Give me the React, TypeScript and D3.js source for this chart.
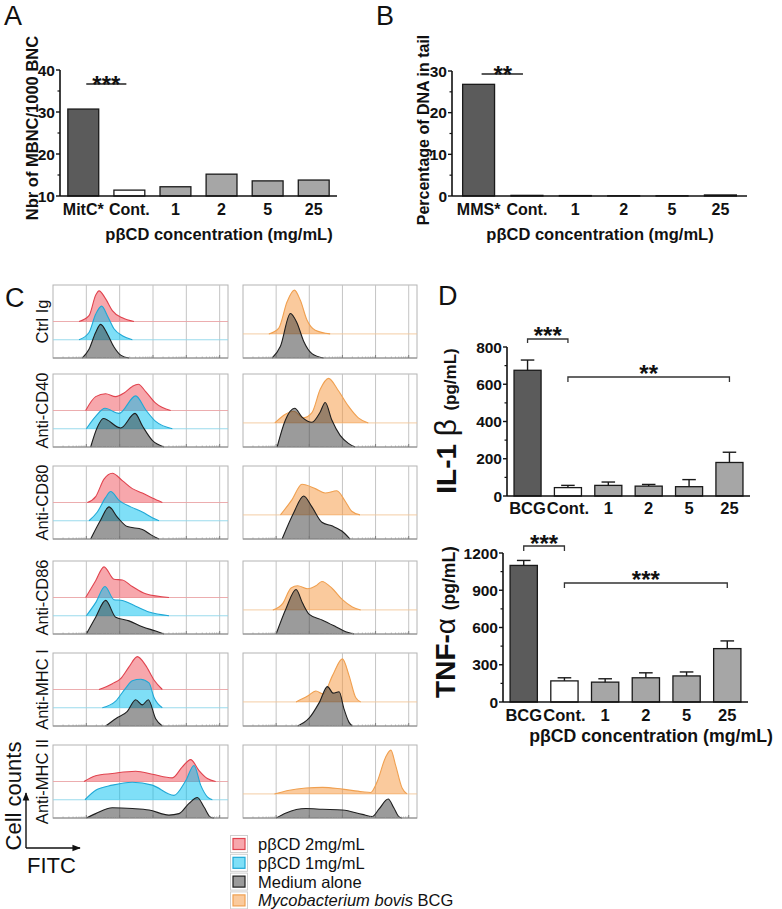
import React from 'react';
import * as d3 from 'd3';

const FONT = "'Liberation Sans', Arial, Helvetica, sans-serif";

// ---------- Panel A ----------
const aCategories = ['MitC*', 'Cont.', '1', '2', '5', '25'];
const aValues = [30.7, 11.4, 12.2, 15.2, 13.6, 13.8];
const aTicks = [10, 20, 30, 40];
const aMinor = [15, 25, 35];

// ---------- Panel B ----------
const bCategories = ['MMS*', 'Cont.', '1', '2', '5', '25'];
const bValues = [26.8, 0.15, 0.1, 0.05, 0.05, 0.25];
const bTicks = [0, 10, 20, 30];
const bMinor = [5, 15, 25];

// ---------- Panel D ----------
const dCategories = ['BCG', 'Cont.', '1', '2', '5', '25'];
const il1Values = [675, 45, 57, 53, 50, 180];
const il1Errors = [55, 12, 18, 9, 38, 55];
const il1Ticks = [0, 200, 400, 600, 800];
const il1Minor = [100, 300, 500, 700];
const tnfValues = [1100, 170, 160, 195, 210, 430];
const tnfErrors = [40, 25, 27, 40, 32, 62];
const tnfTicks = [0, 300, 600, 900, 1200];
const tnfMinor = [150, 450, 750, 1050];

// ---------- Panel C (histograms: [log FITC decade, % of frame height]) ----------
const rowLabels = ['Ctrl Ig', 'Anti-CD40', 'Anti-CD80', 'Anti-CD86', 'Anti-MHC I', 'Anti-MHC II'];

const ctrlRed = [[0.78, 0], [1.08, 8], [1.28, 36], [1.38, 42], [1.58, 31], [1.78, 15], [2.08, 5], [2.43, 0]];
const ctrlBlue = [[0.78, 0], [1.08, 10], [1.28, 35], [1.46, 46], [1.63, 33], [1.83, 15], [2.08, 5.5], [2.38, 0]];
const ctrlBlack = [[0.88, 0], [1.08, 12], [1.28, 35], [1.43, 46], [1.63, 33], [1.83, 15], [2.03, 4], [2.28, 0]];
const ctrlOrange = [[0.78, 0], [1.08, 8], [1.33, 44], [1.55, 60], [1.73, 46], [1.93, 19], [2.18, 5], [2.63, 0]];
const ctrlBlackR = [[0.88, 0], [1.13, 16], [1.43, 61], [1.63, 48], [1.83, 23], [2.08, 6], [2.43, 0]];

const cd40Red = [[0.98, 0], [1.28, 19], [1.58, 23], [1.88, 19], [2.13, 24], [2.38, 33], [2.56, 36], [2.78, 26], [3.08, 10], [3.53, 0]];
const cd40Blue = [[1.0, 0], [1.28, 17], [1.56, 28], [1.98, 21], [2.48, 45], [2.78, 26], [3.08, 10], [3.58, 0]];
const cd40Black = [[1.13, 0], [1.33, 27], [1.51, 39], [2.03, 26], [2.46, 46], [2.68, 29], [2.98, 9], [3.33, 0]];
const cd40Orange = [[0.96, 0], [1.28, 12], [1.53, 16], [1.83, 7], [2.08, 14], [2.33, 46], [2.58, 61], [2.88, 44], [3.18, 23], [3.48, 7], [3.78, 0]];
const cd40BlackR = [[1.03, 0], [1.28, 37], [1.56, 53], [1.78, 41], [2.08, 34], [2.33, 48], [2.48, 61], [2.68, 37], [2.93, 16], [3.18, 5], [3.38, 0]];

const cd80Red = [[1.03, 0], [1.28, 8], [1.53, 32], [1.78, 40], [2.08, 30], [2.38, 19], [2.68, 13], [2.98, 6], [3.28, 0]];
const cd80Blue = [[1.08, 0], [1.33, 12], [1.58, 32], [1.73, 40], [1.98, 28], [2.33, 19], [2.68, 12], [2.98, 4], [3.18, 0]];
const cd80Black = [[1.13, 0], [1.43, 26], [1.68, 44], [1.93, 30], [2.23, 17], [2.68, 13], [2.93, 6], [3.18, 0]];
const cd80Orange = [[1.13, 0], [1.48, 21], [1.78, 42], [2.18, 36], [2.48, 30], [2.83, 33], [3.08, 19], [3.28, 5], [3.53, 0]];
const cd80BlackR = [[1.18, 0], [1.53, 36], [1.83, 59], [2.08, 44], [2.38, 23], [2.68, 18], [2.98, 11], [3.23, 0]];

const cd86Red = [[0.98, 0], [1.28, 23], [1.53, 42], [1.83, 25], [2.08, 24], [2.38, 15], [2.78, 5], [3.48, 0]];
const cd86Blue = [[1.0, 0], [1.28, 18], [1.56, 40], [1.83, 22], [2.08, 21], [2.48, 13], [2.88, 5], [3.48, 0]];
const cd86Black = [[1.0, 0], [1.28, 23], [1.58, 46], [1.88, 23], [2.28, 18], [2.68, 10], [3.08, 4], [3.33, 0]];
const cd86Orange = [[0.9, 0], [1.2, 9], [1.45, 30], [1.65, 33], [1.95, 29], [2.2, 33], [2.38, 39], [2.7, 29], [3.0, 14], [3.3, 4], [3.55, 0]];
const cd86BlackR = [[1.0, 0], [1.3, 35], [1.6, 61], [1.8, 42], [2.0, 27], [2.4, 19], [2.8, 10], [3.1, 3], [3.35, 0]];

const mhc1Red = [[1.38, 0], [1.78, 8], [2.03, 15], [2.28, 31], [2.53, 45], [2.78, 33], [3.03, 13], [3.28, 0]];
const mhc1Blue = [[1.48, 0], [1.88, 9], [2.18, 27], [2.38, 37], [2.63, 39], [2.88, 34], [3.03, 14], [3.28, 0]];
const mhc1Black = [[1.58, 0], [1.88, 10], [2.23, 20], [2.48, 36], [2.68, 29], [2.86, 36], [3.08, 10], [3.28, 0]];
const mhc1Orange = [[1.6, 0], [1.95, 8], [2.2, 15], [2.42, 11], [2.7, 36], [3.0, 59], [3.2, 36], [3.4, 6], [3.55, 0]];
const mhc1BlackR = [[1.65, 0], [2.0, 11], [2.3, 32], [2.55, 54], [2.72, 45], [2.9, 47], [3.05, 23], [3.2, 5], [3.3, 0]];

const mhc2Red = [[0.93, 0], [1.28, 8], [1.78, 11], [2.48, 14], [2.98, 10], [3.58, 5], [3.88, 20], [4.13, 30], [4.38, 15], [4.63, 4], [4.88, 0]];
const mhc2Blue = [[0.96, 0], [1.28, 13], [1.78, 20], [2.38, 24], [2.98, 20], [3.63, 6], [3.98, 26], [4.23, 47], [4.43, 20], [4.63, 4], [4.78, 0]];
const mhc2Black = [[1.0, 0], [1.28, 6], [1.78, 14], [2.38, 13], [2.88, 11], [3.48, 4], [3.78, 6], [4.08, 20], [4.33, 28], [4.53, 15], [4.73, 1], [4.83, 0]];
const mhc2Orange = [[0.95, 0], [1.4, 5], [1.9, 8], [2.4, 9], [3.0, 6.5], [3.6, 3], [3.85, 2], [4.05, 17], [4.3, 50], [4.46, 60], [4.6, 40], [4.8, 8], [4.95, 0]];
const mhc2BlackR = [[1.0, 0], [1.3, 7], [1.9, 13], [2.4, 12], [3.0, 11], [3.6, 5], [3.9, 2], [4.1, 12], [4.38, 26], [4.55, 14], [4.7, 2], [4.8, 0]];

const leftRed = [ctrlRed, cd40Red, cd80Red, cd86Red, mhc1Red, mhc2Red];
const leftBlue = [ctrlBlue, cd40Blue, cd80Blue, cd86Blue, mhc1Blue, mhc2Blue];
const leftBlack = [ctrlBlack, cd40Black, cd80Black, cd86Black, mhc1Black, mhc2Black];
const rightOrange = [ctrlOrange, cd40Orange, cd80Orange, cd86Orange, mhc1Orange, mhc2Orange];
const rightBlack = [ctrlBlackR, cd40BlackR, cd80BlackR, cd86BlackR, mhc1BlackR, mhc2BlackR];

const legendItems = ['pβCD 2mg/mL', 'pβCD 1mg/mL', 'Medium alone', 'Mycobacterium bovis BCG'];

// ---------- styles ----------
const BAR_FILL = ['#5b5b5b', '#ffffff', '#a6a6a6', '#a6a6a6', '#a6a6a6', '#a6a6a6'];
const RED = { fill: 'rgba(240,80,90,0.5)', stroke: '#e0434e', base: '#eaa4a6' };
const BLUE = { fill: 'rgba(0,192,240,0.5)', stroke: '#1ea8d6', base: '#8fd6ea' };
const BLACK = { fill: 'rgba(55,55,55,0.5)', stroke: '#1e1e1e', base: '#999' };
const ORANGE = { fill: 'rgba(245,150,60,0.5)', stroke: '#f0a050', base: '#f2c69a' };

function BarChart(props: any) {
  const { cats, vals, errs, ticks, minor, xr, yr, dom, pi, po, tickFs, catFs, catY } = props;
  const x = d3.scaleBand().domain(cats).range(xr).paddingInner(pi).paddingOuter(po);
  const y = d3.scaleLinear().domain(dom).range(yr);
  const bw = x.bandwidth();
  return (
    <g>
      {cats.map((c: string, i: number) => {
        const h = Math.max(0, y(dom[0]) - y(vals[i]));
        return (
          <rect key={c} x={x(c)} y={y(vals[i])} width={bw} height={h}
            fill={BAR_FILL[i]} stroke="#1a1a1a" strokeWidth={1.3} />
        );
      })}
      {errs && cats.map((c: string, i: number) => {
        const cx = (x(c) as number) + bw / 2;
        return (
          <g key={'e' + c} stroke="#1a1a1a" strokeWidth={1.4}>
            <line x1={cx} x2={cx} y1={y(vals[i])} y2={y(vals[i] + errs[i])} />
            <line x1={cx - bw * 0.25} x2={cx + bw * 0.25} y1={y(vals[i] + errs[i])} y2={y(vals[i] + errs[i])} />
          </g>
        );
      })}
      <line x1={xr[0]} x2={xr[1]} y1={yr[0]} y2={yr[0]} stroke="#111" strokeWidth={1.6} />
      <line x1={xr[0]} x2={xr[0]} y1={yr[0]} y2={yr[1]} stroke="#111" strokeWidth={1.6} />
      {ticks.map((t: number) => (
        <g key={'t' + t}>
          <line x1={xr[0] - 4} x2={xr[0]} y1={y(t)} y2={y(t)} stroke="#111" strokeWidth={1.4} />
          <text x={xr[0] - 5} y={y(t)} dy="0.36em" textAnchor="end" fontFamily={FONT}
            fontWeight="bold" fontSize={tickFs} fill="#111">{t}</text>
        </g>
      ))}
      {minor.map((t: number) => (
        <line key={'m' + t} x1={xr[0] - 2.5} x2={xr[0]} y1={y(t)} y2={y(t)} stroke="#111" strokeWidth={1.2} />
      ))}
      {cats.map((c: string) => (
        <text key={'c' + c} x={(x(c) as number) + bw / 2} y={catY} textAnchor="middle" fontFamily={FONT}
          fontWeight="bold" fontSize={catFs} fill="#111">{c}</text>
      ))}
    </g>
  );
}

function bandCenters(cats: string[], xr: number[], pi: number, po: number) {
  const x = d3.scaleBand().domain(cats).range(xr as any).paddingInner(pi).paddingOuter(po);
  return cats.map((c) => (x(c) as number) + x.bandwidth() / 2);
}

function Stars({ x, y, text }: any) {
  return (
    <text x={x} y={y} textAnchor="middle" fontFamily={FONT} fontWeight="bold" fontSize={24} fill="#111">{text}</text>
  );
}

function Bracket({ x1, x2, y, drop }: any) {
  return (
    <path d={`M${x1},${y + drop}V${y}H${x2}V${y + drop}`} fill="none" stroke="#333" strokeWidth={1.3} />
  );
}

function Histo({ left, top, width, height, curves }: any) {
  const x = d3.scaleLinear().domain([0, 5.25]).range([left, left + width]);
  const y = d3.scaleLinear().domain([0, 100]).range([top + height, top]);
  const grid = [1, 2, 3, 4, 5];
  const minorTicks: number[] = [];
  for (let k = 0; k < 5; k++) {
    for (let m = 2; m <= 9; m++) {
      const v = k + Math.log10(m);
      if (v < 5.25) minorTicks.push(v);
    }
  }
  return (
    <g>
      <rect x={left} y={top} width={width} height={height} fill="#fff" stroke="#b4b4b4" strokeWidth={1} />
      {grid.map((g) => (
        <line key={g} x1={x(g)} x2={x(g)} y1={top} y2={top + height} stroke="#c4c4c4" strokeWidth={1} />
      ))}
      {curves.filter((c: any) => c.offset > 0).map((c: any, i: number) => (
        <line key={'b' + i} x1={left} x2={left + width} y1={y(c.offset)} y2={y(c.offset)} stroke={c.style.base} strokeWidth={0.9} />
      ))}
      {curves.map((c: any, i: number) => {
        const area = d3.area<number[]>()
          .x((d) => x(d[0]))
          .y0(y(c.offset))
          .y1((d) => y(c.offset + d[1]))
          .curve(d3.curveMonotoneX);
        const line = d3.line<number[]>()
          .x((d) => x(d[0]))
          .y((d) => y(c.offset + d[1]))
          .curve(d3.curveMonotoneX);
        return (
          <g key={'c' + i}>
            <path d={area(c.data) || ''} fill={c.style.fill} stroke="none" />
            <path d={line(c.data) || ''} fill="none" stroke={c.style.stroke} strokeWidth={1.1} />
          </g>
        );
      })}
      <line x1={left} x2={left + width} y1={top + height} y2={top + height} stroke="#8a8a8a" strokeWidth={1} />
      {minorTicks.map((v, i) => (
        <line key={'mt' + i} x1={x(v)} x2={x(v)} y1={top + height} y2={top + height - 1.5} stroke="#999" strokeWidth={0.7} />
      ))}
      {grid.map((g) => (
        <line key={'gt' + g} x1={x(g)} x2={x(g)} y1={top + height} y2={top + height - 3} stroke="#777" strokeWidth={0.9} />
      ))}
    </g>
  );
}

export default function App() {
  const W = 782;
  const H = 909;

  const aXr = [60, 337];
  const bXr = [452, 747];
  const dTopXr = [507, 750];
  const dBotXr = [503, 748];
  const aC = bandCenters(aCategories, aXr, 0.33, 0.17);
  const bC = bandCenters(bCategories, bXr, 0.34, 0.22);
  const dTC = bandCenters(dCategories, dTopXr, 0.33, 0.174);
  const dBC = bandCenters(dCategories, dBotXr, 0.33, 0.174);

  const rowTops = [285, 374, 466, 561, 653, 745];
  const boxH = 73;
  const leftX = 53;
  const leftW = 175;
  const rightX = 243;
  const rightW = 174;

  const legendStyles = [RED, BLUE, BLACK, ORANGE];

  return (
    <svg width={W} height={H} viewBox={`0 0 ${W} ${H}`}
      style={{ position: 'absolute', left: 0, top: 0, background: '#fff' }}>
      <rect x={0} y={0} width={W} height={H} fill="#fff" />

      {/* Panel letters */}
      <text x={4} y={25} fontFamily={FONT} fontSize={27} fill="#111">A</text>
      <text x={376} y={25} fontFamily={FONT} fontSize={27} fill="#111">B</text>
      <text x={5} y={307} fontFamily={FONT} fontSize={27} fill="#111">C</text>
      <text x={438} y={305} fontFamily={FONT} fontSize={27} fill="#111">D</text>

      {/* Panel A */}
      <BarChart cats={aCategories} vals={aValues} ticks={aTicks} minor={aMinor}
        xr={aXr} yr={[196, 70]} dom={[10, 40]} pi={0.33} po={0.17}
        tickFs={15.5} catFs={16} catY={215} />
      <line x1={aC[0] + 3} x2={aC[1] - 3} y1={84} y2={84} stroke="#222" strokeWidth={1.3} />
      <Stars x={(aC[0] + aC[1]) / 2} y={93} text="***" />
      <text transform="translate(38,128) rotate(-90)" textAnchor="middle" fontFamily={FONT}
        fontWeight="bold" fontSize={16.5} fill="#111">Nbr of MBNC/1000 BNC</text>
      <text x={219} y={240} textAnchor="middle" fontFamily={FONT} fontWeight="bold" fontSize={16.5} fill="#111">pβCD concentration (mg/mL)</text>

      {/* Panel B */}
      <BarChart cats={bCategories} vals={bValues} ticks={bTicks} minor={bMinor}
        xr={bXr} yr={[196, 71]} dom={[0, 30]} pi={0.34} po={0.22}
        tickFs={15.5} catFs={16} catY={215} />
      <line x1={bC[0] + 3} x2={bC[1] - 4} y1={74} y2={74} stroke="#222" strokeWidth={1.3} />
      <Stars x={(bC[0] + bC[1]) / 2} y={83} text="**" />
      <text transform="translate(429,130) rotate(-90)" textAnchor="middle" fontFamily={FONT}
        fontWeight="bold" fontSize={16} fill="#111">Percentage of DNA in tail</text>
      <text x={600} y={240} textAnchor="middle" fontFamily={FONT} fontWeight="bold" fontSize={16.5} fill="#111">pβCD concentration (mg/mL)</text>

      {/* Panel C */}
      {rowLabels.map((lab, i) => (
        <g key={lab}>
          <text transform={`translate(48,${rowTops[i] + boxH / 2}) rotate(-90)`} textAnchor="middle"
            fontFamily={FONT} fontSize={16.5} fill="#111">{lab}</text>
          <Histo left={leftX} top={rowTops[i]} width={leftW} height={boxH}
            curves={[
              { data: leftRed[i], offset: 50, style: RED },
              { data: leftBlue[i], offset: 25, style: BLUE },
              { data: leftBlack[i], offset: 0, style: BLACK },
            ]} />
          <Histo left={rightX} top={rowTops[i]} width={rightW} height={boxH}
            curves={[
              { data: rightOrange[i], offset: 33, style: ORANGE },
              { data: rightBlack[i], offset: 0, style: BLACK },
            ]} />
        </g>
      ))}

      {/* Cell counts / FITC arrows */}
      <text transform="translate(21,796) rotate(-90)" textAnchor="middle" fontFamily={FONT} fontSize={22} fill="#111">Cell counts</text>
      <defs>
        <marker id="arr" viewBox="0 0 10 10" refX="9" refY="5" markerWidth="6" markerHeight="6" orient="auto">
          <path d="M0,1 L10,5 L0,9 z" fill="#111" />
        </marker>
      </defs>
      <path d="M26,848 V793" stroke="#111" strokeWidth={1.4} fill="none" markerEnd="url(#arr)" />
      <path d="M26,848 H80" stroke="#111" strokeWidth={1.4} fill="none" markerEnd="url(#arr)" />
      <text x={27} y={873} fontFamily={FONT} fontSize={22} fill="#111">FITC</text>

      {/* Legend */}
      {legendItems.map((item, i) => {
        const cy = 844 + i * 18.8;
        const st = legendStyles[i];
        return (
          <g key={item}>
            <rect x={230.5} y={cy - 8.5} width={17} height={17} fill="#fff" stroke="#cfcfcf" strokeWidth={1} />
            <rect x={233} y={cy - 5.5} width={12} height={11} fill={st.fill} stroke={st.stroke} strokeWidth={1.2} />
            {i < 3 ? (
              <text x={258} y={cy + 6} fontFamily={FONT} fontSize={16.5} fill="#111">{item}</text>
            ) : (
              <text x={258} y={cy + 6} fontFamily={FONT} fontSize={16.5} fill="#111">
                <tspan fontStyle="italic">Mycobacterium bovis</tspan> BCG
              </text>
            )}
          </g>
        );
      })}

      {/* Panel D top: IL-1 beta */}
      <BarChart cats={dCategories} vals={il1Values} errs={il1Errors} ticks={il1Ticks} minor={il1Minor}
        xr={dTopXr} yr={[496, 347]} dom={[0, 800]} pi={0.33} po={0.174}
        tickFs={15.5} catFs={16.5} catY={514} />
      <Bracket x1={dTC[0]} x2={dTC[1]} y={339} drop={4} />
      <Stars x={(dTC[0] + dTC[1]) / 2} y={344} text="***" />
      <Bracket x1={dTC[1]} x2={dTC[5]} y={377} drop={5} />
      <Stars x={(dTC[1] + dTC[5]) / 2} y={382} text="**" />
      <text transform="translate(456,421) rotate(-90)" textAnchor="middle" fontFamily={FONT} fill="#111">
        <tspan fontWeight="bold" fontSize={28}>IL-1 </tspan>
        <tspan fontSize={30}>β </tspan>
        <tspan fontWeight="bold" fontSize={17}>(pg/mL)</tspan>
      </text>

      {/* Panel D bottom: TNF-alpha */}
      <BarChart cats={dCategories} vals={tnfValues} errs={tnfErrors} ticks={tnfTicks} minor={tnfMinor}
        xr={dBotXr} yr={[702, 553]} dom={[0, 1200]} pi={0.33} po={0.174}
        tickFs={15.5} catFs={16.5} catY={721} />
      <Bracket x1={dBC[0]} x2={dBC[1]} y={546} drop={5} />
      <Stars x={(dBC[0] + dBC[1]) / 2} y={552} text="***" />
      <Bracket x1={dBC[1]} x2={dBC[5]} y={583} drop={5} />
      <Stars x={(dBC[1] + dBC[5]) / 2} y={588} text="***" />
      <text transform="translate(455,622) rotate(-90)" textAnchor="middle" fontFamily={FONT} fill="#111">
        <tspan fontWeight="bold" fontSize={28}>TNF-</tspan>
        <tspan fontSize={28}>α </tspan>
        <tspan fontWeight="bold" fontSize={17.5}>(pg/mL)</tspan>
      </text>
      <text x={651} y={742} textAnchor="middle" fontFamily={FONT} fontWeight="bold" fontSize={17.7} fill="#111">pβCD concentration (mg/mL)</text>
    </svg>
  );
}
